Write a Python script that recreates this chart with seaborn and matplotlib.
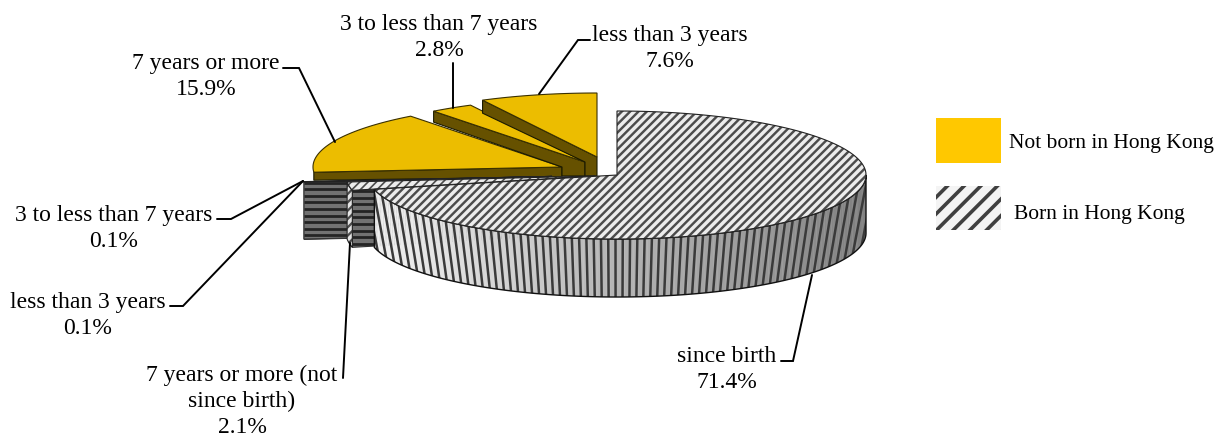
import numpy as np
import matplotlib
matplotlib.use("Agg")
import matplotlib.pyplot as plt
import seaborn as sns
from matplotlib.patches import Polygon, Rectangle
from matplotlib.collections import PolyCollection, LineCollection

# ---- data ----
slice_names = ["since birth", "7 years or more (not\nsince birth)", "less than 3 years",
               "3 to less than 7 years", "7 years or more", "3 to less than 7 years",
               "less than 3 years"]
slice_values = [71.4, 2.1, 0.1, 0.1, 15.9, 2.8, 7.6]
slice_groups = ["Born", "Born", "Born", "Born", "Not", "Not", "Not"]
legend_labels = ["Not born in Hong Kong", "Born in Hong Kong"]

# ---- style / layout ----
RX, RY, H = 249, 64, 58
centers = [(617, 175), (595, 176), (552, 176.4), (552, 176.4), (562, 167), (585, 162), (597, 157)]
rim_drop = [58, 57, 57, 57, 8, 11, 13]
apex_drop = [58, 57, 57, 57, 10, 14, 19]
YEL_TOP, YEL_SIDE, YEL_LEG = "#ECBD00", "#665100", "#FFC800"

sns.set_theme(style="white")
plt.rcParams["font.family"] = ["Liberation Serif", "DejaVu Serif"]
fig, ax = plt.subplots(figsize=(12.29, 4.38), dpi=100)
ax.set_position([0, 0, 1, 1])
ax.set_xlim(0, 1229)
ax.set_ylim(438, 0)
ax.axis("off")

cum = np.cumsum([0] + slice_values)
total = cum[-1]
angles = cum / total * 360.0


def pt(c, deg, drop=0.0):
    t = np.radians(deg)
    return np.column_stack([c[0] + RX * np.sin(t), c[1] - RY * np.cos(t) + drop])


def arc(c, a, b, drop=0.0):
    n = max(2, int(abs(b - a) * 2) + 2)
    return pt(c, np.linspace(a, b, n), drop)


def top_poly(i):
    return np.vstack([[centers[i]], arc(centers[i], angles[i], angles[i + 1])])


def hatched(poly, z, lw=1.75, base="#ececec", ink="#4c4c4c", hatch="////"):
    p = Polygon(poly, closed=True, facecolor=base, edgecolor=ink, hatch=hatch, linewidth=0, zorder=z)
    p.set_hatch_linewidth(lw)
    ax.add_patch(p)
    ax.add_patch(Polygon(poly, closed=True, fill=False, edgecolor="#222222", linewidth=0.8, zorder=z + 0.1))


def radial_face(i, z):
    """dark striped face on the forward radial cut of a born slice"""
    c = centers[i]
    a = pt(c, angles[i])[0]
    face = np.array([a, c, (c[0], c[1] + apex_drop[i]), a + (0, rim_drop[i])])
    p = Polygon(face, closed=True, facecolor="#727272", edgecolor="#333333", linewidth=0.8, zorder=z)
    ax.add_patch(p)
    ys = np.arange(a[1] - 6, a[1] + rim_drop[i], 6.6)
    lc = LineCollection([[(a[0], y), (c[0], y)] for y in ys], colors="#242424", linewidths=2.0, zorder=z + 0.01)
    ax.add_collection(lc)
    lc.set_clip_path(p)


# ---- not-born slices, drawn first ----
for i in [4, 5, 6]:
    c = centers[i]
    a = pt(c, angles[i])[0]
    bottom = c[1] + apex_drop[i]
    outline = [a, c, (c[0], bottom)]
    if i > 4:  # the face runs down to the tip of the previous slice
        outline += [(centers[i - 1][0], bottom), centers[i - 1]]
    outline.append(a + (0, rim_drop[i]))
    ax.add_patch(Polygon(np.array(outline, dtype=float), closed=True, facecolor=YEL_SIDE,
                         edgecolor="#1a1a00", linewidth=0.8, zorder=2 + i * 0.1))
    ax.add_patch(Polygon(top_poly(i), closed=True, facecolor=YEL_TOP, edgecolor="#3a3000", linewidth=0.8, zorder=2.05 + i * 0.1))

# ---- thin born slices ----
for i in [3, 2]:
    radial_face(i, 3 + 0.1 * i)
    ax.add_patch(Polygon(top_poly(i), closed=True, facecolor="#555555", edgecolor="#222222", linewidth=0.8, zorder=3.05 + 0.1 * i))

radial_face(1, 3.5)
rim2 = np.vstack([arc(centers[1], angles[1], angles[2]), arc(centers[1], angles[2], angles[1], rim_drop[1])])
hatched(rim2, 3.6, lw=1.6, base="#e4e4e4")
hatched(top_poly(1), 3.7, lw=1.2)

# ---- main slice: side wall ----
a0, a1 = 90.0, angles[1]
edges = np.linspace(a0, a1, 160)
quads = [np.vstack([pt(centers[0], [u, v]), pt(centers[0], [v, u], H)]) for u, v in zip(edges[:-1], edges[1:])]
mids = 0.5 * (edges[:-1] + edges[1:])
xs = centers[0][0] + RX * np.sin(np.radians(mids))
shade = np.interp(xs, [370, 450, 600, 760, 866], [0.95, 0.88, 0.72, 0.60, 0.50])
wall = PolyCollection(quads, facecolors=[(s, s, s) for s in shade], edgecolors="face", linewidths=0.3, zorder=5)
ax.add_collection(wall)
wall_outline = np.vstack([arc(centers[0], a0, a1), arc(centers[0], a1, a0, H)])
clip = Polygon(wall_outline, closed=True, fill=False, edgecolor="#111111", linewidth=1.0, zorder=5.2)
ax.add_patch(clip)
wall.set_clip_path(clip)
stripe_x = np.arange(360, 880, 7.3)
fan = -0.0576 * (stripe_x - centers[0][0])
stripes = LineCollection(
    [[(x - f * 0.9, 170), (x + f * 0.9, 300)] for x, f in zip(stripe_x, fan)],
    colors="#3a3a3a", linewidths=1.8, zorder=5.1)
ax.add_collection(stripes)
stripes.set_clip_path(clip)

# ---- main slice: top face ----
hatched(top_poly(0), 6)

# ---- leaders ----
leaders = [([453, 453], [63, 108]),
           ([590, 578, 539], [40, 40, 94]),
           ([283, 299, 335], [68, 68, 142]),
           ([217, 231, 303], [219, 219, 181]),
           ([170, 183, 303], [306, 306, 181]),
           ([343, 350], [378, 243]),
           ([781, 793, 812], [361, 361, 275])]
for lx, ly in leaders:
    ax.plot(lx, ly, color="black", lw=1.4, zorder=7, solid_joinstyle="miter")

# ---- labels ----
pct = [f"{v:.1f}%" for v in slice_values]
FS = 17
anchors = {0: (727, 369.5), 1: (242, 401.5), 2: (88, 315.5), 3: (114, 228.5), 4: (206, 76.5), 5: (439, 37.5), 6: (670, 48.5)}
for i, (x, y) in anchors.items():
    ax.text(x, y, f"{slice_names[i]}\n{pct[i]}", ha="center", va="center", fontsize=FS,
            linespacing=1.33, color="black", zorder=8)

# ---- legend ----
ax.add_patch(Rectangle((936, 118), 65, 45, facecolor=YEL_LEG, edgecolor="none"))
leg = Rectangle((936, 186), 65, 44, facecolor="#f4f4f4", edgecolor="#404040", hatch="//", linewidth=0)
leg.set_hatch_linewidth(2.6)
ax.add_patch(leg)
ax.text(1009, 143.5, legend_labels[0], ha="left", va="center", fontsize=15.5, color="black")
ax.text(1014, 214, legend_labels[1], ha="left", va="center", fontsize=15.5, color="black")

fig.savefig("out.png", dpi=100)
